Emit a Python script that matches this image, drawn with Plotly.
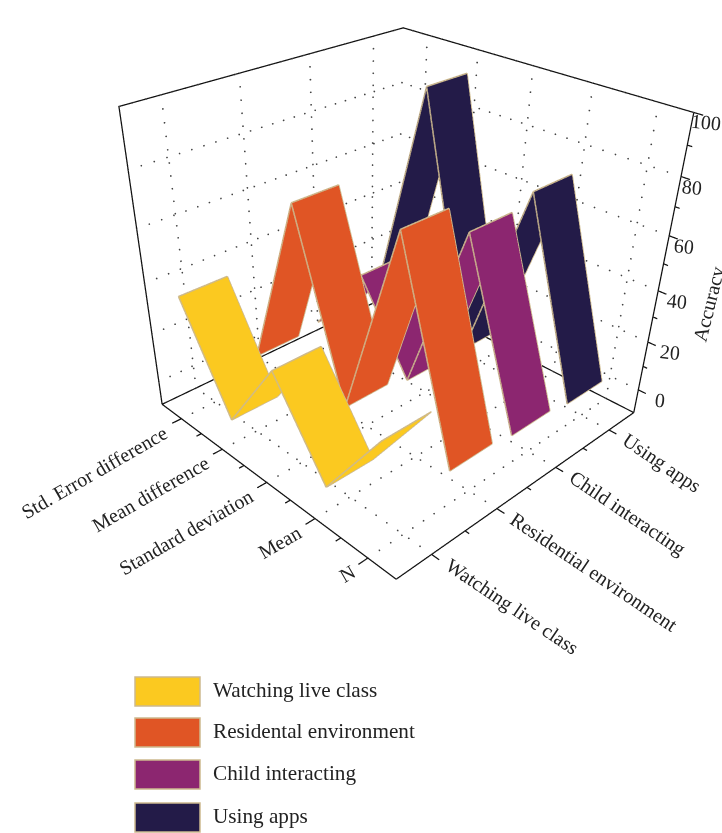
import numpy as np
import plotly.graph_objects as go

# Table contents
measures = ["N", "Mean", "Standard deviation", "Mean difference", "Std. Error difference"]
series_ticks = ["Watching live class", "Residential environment", "Child interacting", "Using apps"]
legend_names = ["Watching live class", "Residental environment", "Child interacting", "Using apps"]
watching = [32, 0, 32, 0, 38]
residential = [4, 78, 3, 70, 1]
child = [2, 67, 0, 33, 3]
using_apps = [0, 71, 0, 93, 1]
z_ticks = [0, 20, 40, 60, 80, 100]

colors = ["#FBC920", "#E05525", "#8C2670", "#231B48"]
EDGE = "#CDB98E"
FONT = "Liberation Serif"
HALF = 0.335
XR = (-0.5, 3.5)
YR = (-0.5, 4.5)
ZR = (-10, 100)
# Scene ranges leave room around the box so its frame and ticks are not clipped
PAD_XY = 0.25
PAD_Z = 5
BOX_Z = 0.91

fig = go.Figure()

def path(segments, color, width):
    """Line segments in scene coordinates, each traced both ways."""
    xs, ys, zs = [], [], []
    for a, b in segments:
        for p in (a, b, a, None):
            u, v, w = p if p is not None else (None, None, None)
            xs.append(u); ys.append(v); zs.append(w)
    fig.add_trace(go.Scatter3d(x=xs, y=ys, z=zs, mode="lines",
                               line=dict(color=color, width=width),
                               hoverinfo="skip", showlegend=False))

def dots(starts, ends, count):
    """Sparse dotted grid lines drawn as tiny markers."""
    xs, ys, zs = [], [], []
    for s, e in zip(starts, ends):
        t = np.linspace(0, 1, count)
        xs += list(s[0] + (e[0] - s[0]) * t)
        ys += list(s[1] + (e[1] - s[1]) * t)
        zs += list(s[2] + (e[2] - s[2]) * t)
    fig.add_trace(go.Scatter3d(x=xs, y=ys, z=zs, mode="markers",
                               marker=dict(size=1, color="#444444", line=dict(width=0)),
                               hoverinfo="skip", showlegend=False))

# Dotted grid on the floor and the two far walls
sx = list(range(len(series_ticks)))
sy = list(range(len(measures)))
st, en = [], []
for a in sx:
    st.append((a, YR[1], ZR[0])); en.append((a, YR[1], ZR[1]))
    st.append((a, YR[0], ZR[0])); en.append((a, YR[1], ZR[0]))
for b in sy:
    st.append((XR[1], b, ZR[0])); en.append((XR[1], b, ZR[1]))
    st.append((XR[0], b, ZR[0])); en.append((XR[1], b, ZR[0]))
for v in z_ticks:
    st.append((XR[0], YR[1], v)); en.append((XR[1], YR[1], v))
    st.append((XR[1], YR[0], v)); en.append((XR[1], YR[1], v))
dots(st, en, 26)

# Frame of the box
corners = [(XR[0], YR[1], ZR[1]), (XR[0], YR[1], ZR[0]), (XR[0], YR[0], ZR[0]),
           (XR[1], YR[0], ZR[0]), (XR[1], YR[0], ZR[1]), (XR[1], YR[1], ZR[1]),
           (XR[0], YR[1], ZR[1])]
frame = list(zip(corners[:-1], corners[1:]))
frame += [((XR[0], YR[1], ZR[0]), (XR[1], YR[1], ZR[0])),
          ((XR[1], YR[1], ZR[0]), (XR[1], YR[0], ZR[0]))]
path(frame, "#111111", 2.5)

# Tick marks along the three visible axes
MAJOR = 0.13
MINOR = 0.07
tk = []
for b in np.arange(YR[0], YR[1] + 0.01, 0.5)[1:-1]:
    ln = MAJOR if float(b).is_integer() else MINOR
    tk.append(((XR[0], b, ZR[0]), (XR[0] - ln, b, ZR[0])))
for a in np.arange(XR[0], XR[1] + 0.01, 0.5)[1:-1]:
    ln = MAJOR if float(a).is_integer() else MINOR
    tk.append(((a, YR[0], ZR[0]), (a, YR[0] - ln, ZR[0])))
for v in np.arange(0, 101, 10):
    ln = MAJOR if v % 20 == 0 else MINOR
    tk.append(((XR[1], YR[0], v), (XR[1], YR[0] - ln, v)))
path(tk, "#111111", 2.5)

# One folded ribbon per series
for i, (vals, col) in enumerate(zip([watching, residential, child, using_apps], colors)):
    xx = np.array([[i - HALF] * len(sy), [i + HALF] * len(sy)])
    yy = np.array([sy, sy], dtype=float)
    zz = np.array([vals, vals], dtype=float)
    fig.add_trace(go.Surface(x=xx, y=yy, z=zz, surfacecolor=np.zeros_like(zz),
                             colorscale=[[0, col], [1, col]], showscale=False,
                             lighting=dict(ambient=1, diffuse=0, specular=0, roughness=1, fresnel=0),
                             hoverinfo="skip"))
    outline = []
    for b in sy:
        outline.append(((i - HALF, b, vals[b]), (i + HALF, b, vals[b])))
    for b in sy[:-1]:
        outline.append(((i - HALF, b, vals[b]), (i - HALF, b + 1, vals[b + 1])))
        outline.append(((i + HALF, b, vals[b]), (i + HALF, b + 1, vals[b + 1])))
    path(outline, EDGE, 3)

# Axis labels as rotated text pinned to scene coordinates
TEXT = dict(family=FONT, size=20, color="#222222")
notes = []
for b, name in enumerate(measures):
    notes.append(dict(x=XR[0], y=b, z=ZR[0], text=name, showarrow=False, textangle=-30,
                      xanchor="right", yanchor="top", xshift=-7, yshift=0, font=TEXT))
for a, name in enumerate(series_ticks):
    notes.append(dict(x=a, y=YR[0], z=ZR[0], text=name, showarrow=False, textangle=34,
                      xanchor="left", yanchor="top", xshift=7, yshift=4, font=TEXT))
for v in z_ticks:
    # the value labels step in toward the box as they climb, to stay on the page
    notes.append(dict(x=XR[1], y=YR[0], z=v, text=str(v), showarrow=False, textangle=6,
                      xanchor="left", yanchor="middle", xshift=13 - 0.19 * v, yshift=-10, font=TEXT))
notes.append(dict(x=XR[1], y=YR[0], z=35, text="Accuracy", showarrow=False, textangle=-76,
                  xanchor="center", yanchor="middle", xshift=54, font=TEXT))

hidden = dict(visible=False, showgrid=False, showticklabels=False, zeroline=False,
              showspikes=False, showbackground=False, title="")

# Legend swatches and labels on the page
shapes, page_notes = [], []
tops = [677, 718, 760, 803]
for name, col, top in zip(legend_names, colors, tops):
    shapes.append(dict(type="rect", xref="paper", yref="paper",
                       x0=135 / 722, x1=200 / 722, y0=1 - top / 833, y1=1 - (top + 29) / 833,
                       fillcolor=col, line=dict(color=EDGE, width=1.5)))
    page_notes.append(dict(xref="paper", yref="paper", x=211 / 722, y=1 - (top + 12.5) / 833,
                           text=name, showarrow=False, xanchor="left", yanchor="middle",
                           font=dict(family=FONT, size=21.2, color="#222222")))

x_span = XR[1] - XR[0]
y_span = YR[1] - YR[0]
z_span = ZR[1] - ZR[0]
fig.update_layout(
    width=722, height=833, margin=dict(l=0, r=0, t=0, b=0),
    paper_bgcolor="white", showlegend=False,
    shapes=shapes, annotations=page_notes,
    scene=dict(
        domain=dict(x=[0, 1], y=[0, 1]),
        xaxis=dict(hidden, range=[XR[0] - PAD_XY, XR[1] + PAD_XY]),
        yaxis=dict(hidden, range=[YR[0] - PAD_XY, YR[1] + PAD_XY]),
        zaxis=dict(hidden, range=[ZR[0] - PAD_Z, ZR[1] + PAD_Z]),
        aspectmode="manual",
        aspectratio=dict(x=(x_span + 2 * PAD_XY) / x_span,
                         y=(y_span + 2 * PAD_XY) / y_span,
                         z=BOX_Z * (z_span + 2 * PAD_Z) / z_span),
        camera=dict(eye=dict(x=-1.7501, y=-1.7022, z=1.3199), center=dict(x=-0.2261, y=-0.0842, z=-0.3251),
                    up=dict(x=0, y=0, z=1), projection=dict(type="perspective")),
        annotations=notes,
    ),
)

fig.write_html("out.html")
